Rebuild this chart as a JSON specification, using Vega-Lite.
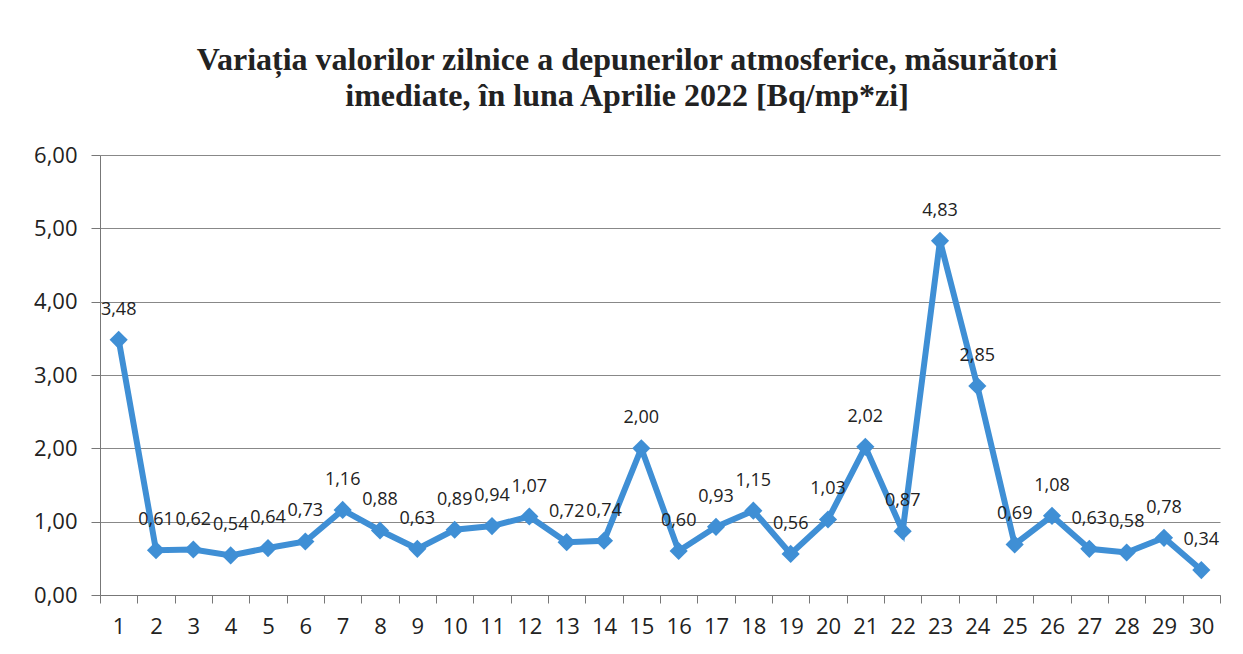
{
  "$schema": "https://vega.github.io/schema/vega-lite/v6.json",
  "width": 1120,
  "height": 440,
  "autosize": {"type": "none"},
  "padding": {"left": 100, "top": 155, "right": 23, "bottom": 59},
  "background": "white",
  "config": {
    "locale": {"number": {"decimal": ",", "thousands": ".", "grouping": [3], "currency": ["", " lei"]}},
    "view": {"stroke": null},
    "font": "Open Sans"
  },
  "title": {
    "text": ["Variația valorilor zilnice a depunerilor atmosferice, măsurători", "imediate,  în luna Aprilie 2022 [Bq/mp*zi]"],
    "font": "Liberation Serif",
    "fontSize": 32,
    "fontWeight": "bold",
    "color": "#222222",
    "anchor": "middle",
    "frame": "bounds",
    "offset": 31,
    "lineHeight": 36
  },
  "data": {
    "values": [
      {"zi": 1, "v": 3.48}, {"zi": 2, "v": 0.61}, {"zi": 3, "v": 0.62}, {"zi": 4, "v": 0.54},
      {"zi": 5, "v": 0.64}, {"zi": 6, "v": 0.73}, {"zi": 7, "v": 1.16}, {"zi": 8, "v": 0.88},
      {"zi": 9, "v": 0.63}, {"zi": 10, "v": 0.89}, {"zi": 11, "v": 0.94}, {"zi": 12, "v": 1.07},
      {"zi": 13, "v": 0.72}, {"zi": 14, "v": 0.74}, {"zi": 15, "v": 2.00}, {"zi": 16, "v": 0.60},
      {"zi": 17, "v": 0.93}, {"zi": 18, "v": 1.15}, {"zi": 19, "v": 0.56}, {"zi": 20, "v": 1.03},
      {"zi": 21, "v": 2.02}, {"zi": 22, "v": 0.87}, {"zi": 23, "v": 4.83}, {"zi": 24, "v": 2.85},
      {"zi": 25, "v": 0.69}, {"zi": 26, "v": 1.08}, {"zi": 27, "v": 0.63}, {"zi": 28, "v": 0.58},
      {"zi": 29, "v": 0.78}, {"zi": 30, "v": 0.34}
    ]
  },
  "encoding": {
    "x": {
      "field": "zi", "type": "ordinal", "title": null,
      "scale": {"paddingInner": 0, "paddingOuter": 0},
      "axis": {
        "labelAngle": 0, "labelFontSize": 22, "labelColor": "#222222", "labelFont": "Open Sans",
        "tickBand": "extent", "tickSize": 8, "tickColor": "#777777", "domainColor": "#777777",
        "labelPadding": 13, "grid": false
      }
    },
    "y": {
      "field": "v", "type": "quantitative", "title": null,
      "scale": {"domain": [0, 6]},
      "axis": {
        "values": [0, 1, 2, 3, 4, 5, 6], "format": ".2f",
        "labelFontSize": 22, "labelColor": "#222222", "labelFont": "Open Sans",
        "tickSize": 9, "tickColor": "#777777", "domainColor": "#777777",
        "gridColor": "#888888", "gridWidth": 1.2, "labelPadding": 14
      }
    }
  },
  "layer": [
    {"mark": {"type": "line", "color": "#3f8fd5", "strokeWidth": 6}},
    {"mark": {"type": "point", "shape": "diamond", "filled": true, "color": "#3f8fd5", "size": 330, "opacity": 1}},
    {
      "mark": {"type": "text", "dy": -30, "fontSize": 18, "color": "#222222", "font": "Open Sans"},
      "encoding": {"text": {"field": "v", "type": "quantitative", "format": ".2f"}}
    }
  ]
}
